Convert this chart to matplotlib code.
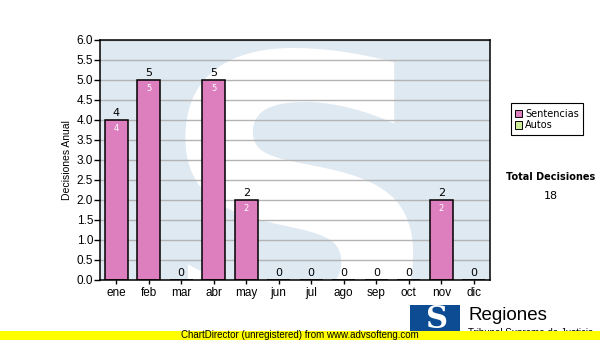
import numpy as np
import matplotlib
matplotlib.use("Agg")
import matplotlib.pyplot as plt
from matplotlib.patches import Rectangle

meses = ["ene", "feb", "mar", "abr", "may", "jun", "jul", "ago", "sep", "oct", "nov", "dic"]
sentencias = [4, 5, 0, 5, 2, 0, 0, 0, 0, 0, 2, 0]
autos = [0, 0, 0, 0, 0, 0, 0, 0, 0, 0, 0, 0]
total = sum(sentencias) + sum(autos)

pink = "#DD7FBF"
green = "#CCEE99"

fig = plt.figure(figsize=(6, 3.4), dpi=100)
ax = fig.add_axes([100/600, 60/340, 390/600, 240/340])
ax.set_facecolor("#DFE9F2")

# watermark S behind the grid
ax.text(0.51, 0.20, "S", transform=ax.transAxes, fontsize=285, fontweight="bold",
        family="DejaVu Sans", color="white", ha="center", va="center",
        zorder=0.5, clip_on=True)

x = np.arange(len(meses))
bars = ax.bar(x, sentencias, width=0.72, color=pink, edgecolor="black",
              linewidth=1.1, zorder=3)

for xi, v in zip(x, sentencias):
    ax.text(xi, v + 0.05, str(v), ha="center", va="bottom", fontsize=8,
            family="DejaVu Sans", color="black", zorder=4)
    if v > 0:
        ax.text(xi, v - 0.1, str(v), ha="center", va="top", fontsize=6,
                family="DejaVu Sans", color="white", zorder=4)

ax.set_xlim(-0.5, 11.5)
ax.set_ylim(0, 6)
ax.set_yticks(np.arange(0, 6.01, 0.5))
ax.set_yticklabels(["%.1f" % t for t in np.arange(0, 6.01, 0.5)],
                   family="Liberation Sans", fontsize=8.5)
ax.set_xticks(x)
ax.set_xticklabels(meses, family="Liberation Sans", fontsize=8.5)
ax.tick_params(axis="y", length=4, width=1, pad=1)
ax.tick_params(axis="x", length=3, width=1, pad=2)
ax.yaxis.grid(True, color="#B4B4B4", linewidth=1, zorder=1)
ax.set_axisbelow(True)
for s in ax.spines.values():
    s.set_color("black")
    s.set_linewidth(1.1)
    s.set_zorder(5)
ax.set_ylabel("Decisiones Anual", family="Liberation Sans", fontsize=7.5, labelpad=3)

# legend box
lx, ly, lw, lh = 511/600, 1 - 135/340, 72/600, 32/340
fig.patches.append(Rectangle((lx, ly), lw, lh, transform=fig.transFigure,
                             facecolor="white", edgecolor="black", linewidth=0.8))
for i, (lab, col) in enumerate([("Sentencias", pink), ("Autos", green)]):
    yy = 1 - (114 + i * 11) / 340
    fig.patches.append(Rectangle((515/600, yy - 3.5/340), 7/600, 7/340,
                                 transform=fig.transFigure, facecolor=col,
                                 edgecolor="black", linewidth=0.7))
    fig.text(525/600, yy, lab, fontsize=7, family="DejaVu Sans", va="center")

fig.text(551/600, 1 - 177/340, "Total Decisiones", fontsize=7, fontweight="bold",
         family="DejaVu Sans", ha="center", va="center")
fig.text(551/600, 1 - 196/340, str(total), fontsize=8, family="DejaVu Sans",
         ha="center", va="center")

# logo
fig.patches.append(Rectangle((410/600, 0), 50/600, 35/340, transform=fig.transFigure,
                             facecolor="#0D4C92", edgecolor="none"))
fig.text(437/600, 1 - 320/340, "S", fontsize=22, fontweight="bold", family="DejaVu Serif",
         color="white", ha="center", va="center")
fig.text(468/600, 1 - 315/340, "Regiones", fontsize=13.5, family="Liberation Sans",
         ha="left", va="center")
fig.text(468/600, 1 - 333/340, "Tribunal Supremo de Justicia", fontsize=7,
         family="Liberation Sans", ha="left", va="center")

# unregistered banner
fig.patches.append(Rectangle((0, 0), 1, 9/340, transform=fig.transFigure,
                             facecolor="#FFFF00", edgecolor="none", zorder=10))
fig.text(300/600, 4.5/340, "ChartDirector (unregistered) from www.advsofteng.com",
         fontsize=7, family="Liberation Sans", ha="center", va="center", zorder=11)

fig.savefig("out.png", dpi=100)
